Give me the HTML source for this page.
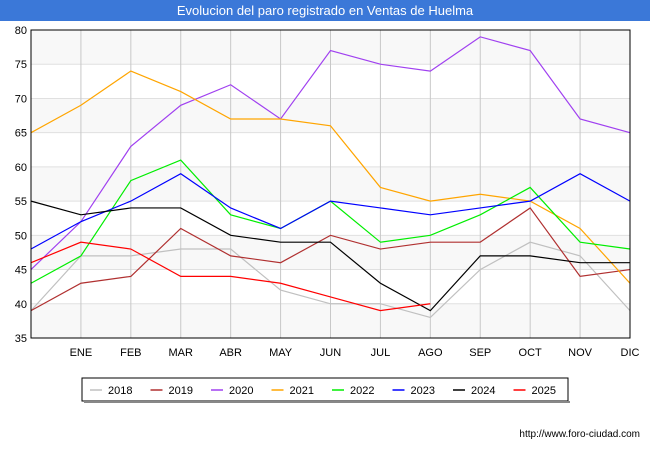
<!DOCTYPE html>
<html><head><meta charset="utf-8"><style>
body{margin:0;width:650px;height:450px;background:#fff;font-family:"Liberation Sans","DejaVu Sans",sans-serif;overflow:hidden}
</style></head><body>
<svg width="650" height="450" xmlns="http://www.w3.org/2000/svg">
<rect x="0" y="0" width="650" height="450" fill="#fff"/>
<rect x="0" y="0" width="650" height="21" fill="#3b78d8"/>
<text x="325" y="15" text-anchor="middle" fill="#fff" font-size="13">Evolucion del paro registrado en Ventas de Huelma</text>
<g id="bands"></g><g id="grid"></g><g id="lines"></g><g id="axes"></g>
<rect x="31" y="30" width="599" height="308" fill="none" stroke="#000" stroke-width="1"/>
<g id="legend"></g>
<text x="640" y="437" text-anchor="end" font-size="10" fill="#000">http://www.foro-ciudad.com</text>
</svg>
<script>
const months=["","ENE","FEB","MAR","ABR","MAY","JUN","JUL","AGO","SEP","OCT","NOV","DIC"];
const yTicks=[35,40,45,50,55,60,65,70,75,80];
const seriesNames=["2018","2019","2020","2021","2022","2023","2024","2025"];
const seriesColors=["#c0c0c0","#b03030","#a040f0","#ffa500","#00ee00","#0000ff","#000000","#ff0000"];
const s2018=[39,47,47,48,48,42,40,40,38,45,49,47,39];
const s2019=[39,43,44,51,47,46,50,48,49,49,54,44,45];
const s2020=[45,52,63,69,72,67,77,75,74,79,77,67,65];
const s2021=[65,69,74,71,67,67,66,57,55,56,55,51,43];
const s2022=[43,47,58,61,53,51,55,49,50,53,57,49,48];
const s2023=[48,52,55,59,54,51,55,54,53,54,55,59,55];
const s2024=[55,53,54,54,50,49,49,43,39,47,47,46,46];
const s2025=[46,49,48,44,44,43,41,39,40];
const allSeries=[s2018,s2019,s2020,s2021,s2022,s2023,s2024,s2025];
const NS="http://www.w3.org/2000/svg";
const L=31,R=630,T=30,B=338,ymin=35,ymax=80;
const X=i=>L+i*(R-L)/(months.length-1);
const Y=v=>B-(v-ymin)*(B-T)/(ymax-ymin);
function mk(tag,attrs,parent){const e=document.createElementNS(NS,tag);for(const k in attrs)e.setAttribute(k,attrs[k]);document.getElementById(parent).appendChild(e);return e;}
for(let i=0;i<yTicks.length-1;i++){
 const top=yTicks.length-2-i;
 if(i%2===0){const r=mk('rect',{x:L,y:Y(yTicks[top+1]),width:R-L,height:Y(yTicks[top])-Y(yTicks[top+1]),fill:'#f8f8f8'},'bands');
 
 }
}
yTicks.forEach(v=>{
 const g=mk('line',{x1:L,x2:R,y1:Y(v),y2:Y(v),stroke:'#e0e0e0'},'grid');
 
 
 const t=mk('text',{x:L-4,y:Y(v)+4,'text-anchor':'end','font-size':11,fill:'#000'},'axes');
 t.textContent=v;
 
 
});
months.forEach((m,i)=>{
 if(i>0){const g=mk('line',{x1:X(i),x2:X(i),y1:T,y2:B,stroke:'#c8c8c8'},'grid');
 
 }
 const t=mk('text',{x:X(i),y:B+18,'text-anchor':'middle','font-size':11,fill:'#000'},'axes');
 t.textContent=m;
 
 
});
allSeries.forEach((s,k)=>{
 const p=mk('polyline',{points:s.map((v,i)=>X(i)+','+Y(v)).join(' '),fill:'none',stroke:seriesColors[k],'stroke-width':1.2},'lines');
 
 
});
const lb=mk('rect',{x:82,y:378,width:486,height:23,fill:'#fff',stroke:'#000'},'legend');


mk('rect',{x:84,y:401,width:486,height:2,fill:'#888'},'legend');
seriesNames.forEach((n,k)=>{
 const x0=90+k*60.5;
 const l=mk('line',{x1:x0,x2:x0+12,y1:390,y2:390,stroke:seriesColors[k],'stroke-width':1.5},'legend');
 
 
 const t=mk('text',{x:x0+18,y:394,'font-size':11,fill:'#000'},'legend');
 t.textContent=n;
 
 
});
</script>
</body></html>
